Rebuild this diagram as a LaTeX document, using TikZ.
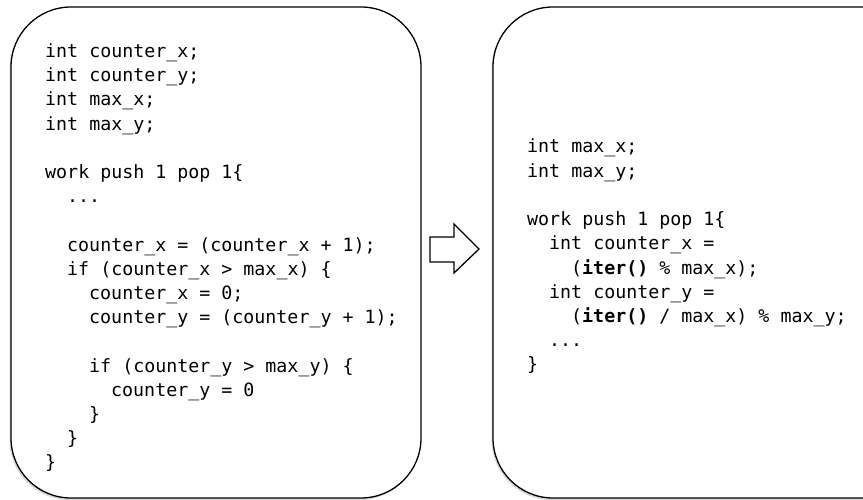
\documentclass[tikz,border=0pt]{standalone}
\usepackage{fontspec}
\setmonofont{DejaVu Sans Mono}
\usetikzlibrary{shadows}
\newcommand{\ind}[1]{\hspace*{#1\dimexpr 11pt\relax}}
\tikzset{
  codebox/.style={draw=black, line width=1.3pt, fill=white, rounded corners=60pt,
    drop shadow={shadow xshift=-1.5pt, shadow yshift=-2pt, opacity=0.25, fill=black!60}},
  code/.style={anchor=base west, inner sep=0pt, font=\ttfamily\fontsize{18.3}{24.2}\selectfont},
  bigarrow/.style={draw=black, line width=1.3pt, fill=white, line join=miter}
}
\begin{document}
\begin{tikzpicture}[x=1pt, y=-1pt]
  \useasboundingbox (0,0) rectangle (863,500);
  \clip (0,0) rectangle (863,500);

  % the two code panels
  \path[codebox] (11,7) rectangle (421,498);
  \path[codebox] (493,7) rectangle (930,498);

  % block arrow between the panels
  \draw[bigarrow] (430,237) -- (454,237) -- (454,224) -- (479,249)
    -- (454,273) -- (454,262) -- (430,262) -- cycle;

  % original filter: explicit counters
  \def\lx{45}
  \node[code] (a1)  at (\lx,57.5)        {int counter\_x;};
  \node[code] (a2)  at (\lx,57.5+24.2)   {int counter\_y;};
  \node[code] (a3)  at (\lx,57.5+48.4)   {int max\_x;};
  \node[code] (a4)  at (\lx,57.5+72.6)   {int max\_y;};
  \node[code] (a6)  at (\lx,57.5+121.0)  {work push 1 pop 1\{};
  \node[code] (a7)  at (\lx,57.5+145.2)  {\ind{2}...};
  \node[code] (a9)  at (\lx,57.5+193.6)  {\ind{2}counter\_x = (counter\_x + 1);};
  \node[code] (a10) at (\lx,57.5+217.8)  {\ind{2}if (counter\_x > max\_x) \{};
  \node[code] (a11) at (\lx,57.5+242.0)  {\ind{4}counter\_x = 0;};
  \node[code] (a12) at (\lx,57.5+266.2)  {\ind{4}counter\_y = (counter\_y + 1);};
  \node[code] (a14) at (\lx,57.5+314.6)  {\ind{4}if (counter\_y > max\_y) \{};
  \node[code] (a15) at (\lx,57.5+338.8)  {\ind{6}counter\_y = 0};
  \node[code] (a16) at (\lx,57.5+363.0)  {\ind{4}\}};
  \node[code] (a17) at (\lx,57.5+387.2)  {\ind{2}\}};
  \node[code] (a18) at (\lx,57.5+411.4)  {\}};

  % transformed filter: counters derived from iter()
  \def\rx{527}
  \node[code] (b1) at (\rx,153)        {int max\_x;};
  \node[code] (b2) at (\rx,153+24.2)   {int max\_y;};
  \node[code] (b4) at (\rx,153+72.6)   {work push 1 pop 1\{};
  \node[code] (b5) at (\rx,153+96.8)   {\ind{2}int counter\_x =};
  \node[code] (b6) at (\rx,153+121.0)  {\ind{4}(\textbf{iter()} \% max\_x);};
  \node[code] (b7) at (\rx,153+145.2)  {\ind{2}int counter\_y =};
  \node[code] (b8) at (\rx,153+169.4)  {\ind{4}(\textbf{iter()} / max\_x) \% max\_y;};
  \node[code] (b9) at (\rx,153+193.6)  {\ind{2}...};
  \node[code] (b10) at (\rx,153+217.8) {\}};
\end{tikzpicture}
\end{document}
